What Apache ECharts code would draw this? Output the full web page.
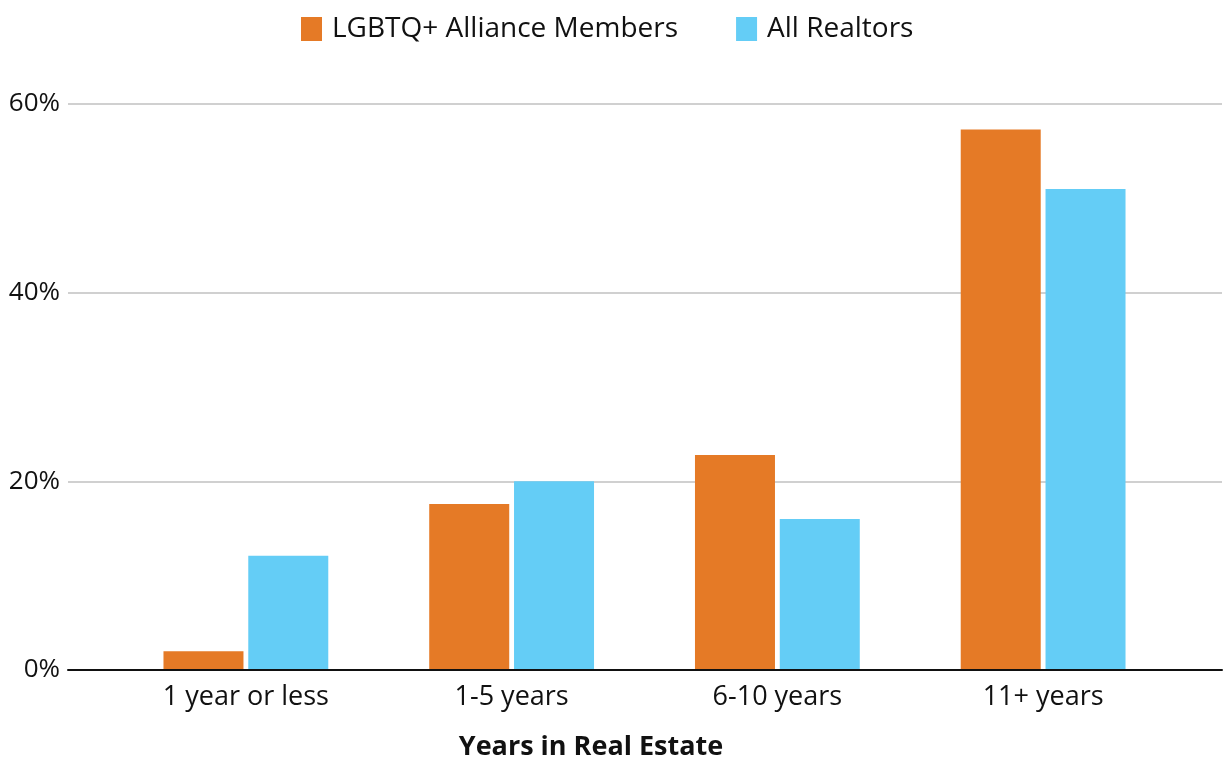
<!DOCTYPE html>
<html>
<head>
<meta charset="utf-8">
<script src="https://cdn.jsdelivr.net/npm/echarts@6/dist/echarts.min.js"></script>
<style>
  html, body { margin: 0; padding: 0; background: #ffffff; }
  #chart { width: 1225px; height: 758px; }
</style>
</head>
<body>
<div id="chart"></div>
<script>
// Share of members by years of experience in real estate
const categories = ['1 year or less', '1-5 years', '6-10 years', '11+ years'];
const seriesNames = ['LGBTQ+ Alliance Members', 'All Realtors'];
const allianceValues = [2, 17.6, 22.8, 57.3];
const realtorValues = [12.1, 20, 16, 51];
const yTicks = { min: 0, max: 60, interval: 20 };

const FONT = "'Open Sans', 'Noto Sans', sans-serif";
const chart = echarts.init(document.getElementById('chart'), null, { renderer: 'canvas' });

chart.setOption({
  animation: false,
  backgroundColor: '#ffffff',
  textStyle: { fontFamily: FONT },
  legend: {
    top: 10,
    left: 296,
    itemWidth: 21,
    itemHeight: 24,
    itemGap: 58,
    icon: 'rect',
    textStyle: { fontSize: 28, color: '#111111', fontFamily: FONT, padding: [0, 0, 0, 5] },
    data: seriesNames
  },
  title: {
    text: 'Years in Real Estate',
    left: 586,
    top: 729,
    textAlign: 'center',
    textStyle: { fontSize: 27, fontWeight: 'bold', color: '#111111', fontFamily: FONT }
  },
  grid: [
    // frame carrying the value axis, gridlines and baseline
    { left: 68, right: 3, top: 104, bottom: 88, containLabel: false },
    // frame carrying the bars and category labels
    { left: 113, right: 49, top: 104, bottom: 88, containLabel: false }
  ],
  xAxis: [
    {
      gridIndex: 0,
      type: 'category',
      data: categories,
      axisLine: { show: true, lineStyle: { color: '#111111', width: 2 } },
      axisTick: { show: false },
      axisLabel: { show: false },
      z: 5
    },
    {
      gridIndex: 1,
      type: 'category',
      data: categories,
      axisLine: { show: false },
      axisTick: { show: false },
      axisLabel: { fontSize: 27, color: '#111111', margin: 14, fontFamily: FONT }
    }
  ],
  yAxis: [
    {
      gridIndex: 0,
      type: 'value',
      min: yTicks.min,
      max: yTicks.max,
      interval: yTicks.interval,
      axisLine: { show: false },
      axisTick: { show: false },
      axisLabel: { formatter: '{value}%', fontSize: 26, color: '#111111', margin: 8, fontFamily: FONT },
      splitLine: { lineStyle: { color: '#d0d0d0', width: 2 } }
    },
    {
      gridIndex: 1,
      type: 'value',
      min: yTicks.min,
      max: yTicks.max,
      interval: yTicks.interval,
      show: false,
      splitLine: { show: false }
    }
  ],
  series: [
    {
      name: seriesNames[0],
      type: 'bar',
      xAxisIndex: 1,
      yAxisIndex: 1,
      data: allianceValues,
      barWidth: 80,
      barGap: '6%',
      itemStyle: { color: '#e57a26' }
    },
    {
      name: seriesNames[1],
      type: 'bar',
      xAxisIndex: 1,
      yAxisIndex: 1,
      data: realtorValues,
      barWidth: 80,
      barGap: '6%',
      itemStyle: { color: '#64cdf6' }
    }
  ]
});
</script>
</body>
</html>
